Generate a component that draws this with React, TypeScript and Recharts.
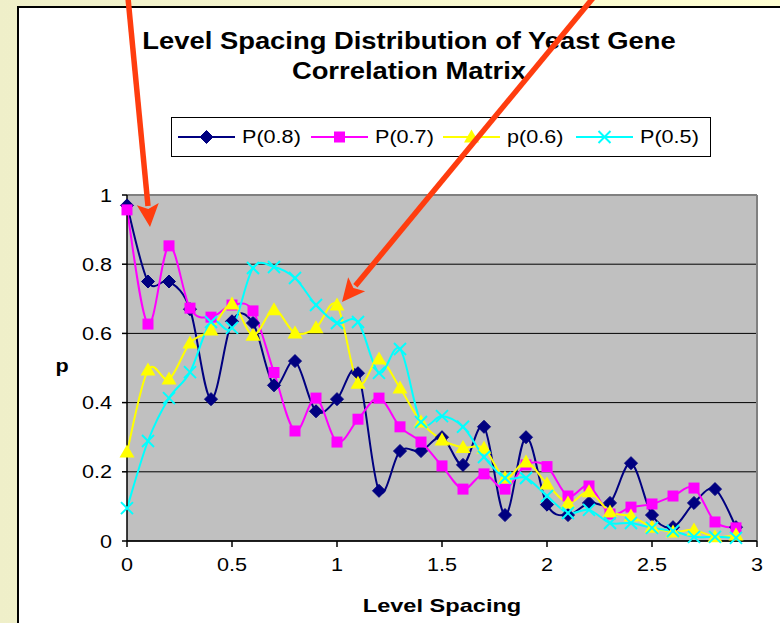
// App.tsx

import {
  LineChart,
  Line,
  XAxis,
  YAxis,
  CartesianGrid,
  ReferenceLine,
} from "recharts";

const spacing = [
  0, 0.1, 0.2, 0.3, 0.4, 0.5, 0.6, 0.7, 0.8, 0.9, 1.0, 1.1, 1.2, 1.3, 1.4,
  1.5, 1.6, 1.7, 1.8, 1.9, 2.0, 2.1, 2.2, 2.3, 2.4, 2.5, 2.6, 2.7, 2.8, 2.9,
];

const p08 = [
  0.97, 0.75, 0.75, 0.67, 0.41, 0.635, 0.63, 0.45, 0.52, 0.375, 0.41, 0.485,
  0.145, 0.26, 0.26, 0.3, 0.22, 0.33, 0.075, 0.3, 0.105, 0.075, 0.11, 0.11,
  0.225, 0.075, 0.04, 0.11, 0.15, 0.04,
];
const p07 = [
  0.957, 0.627, 0.853, 0.673, 0.647, 0.682, 0.665, 0.487, 0.318, 0.413, 0.286,
  0.352, 0.413, 0.33, 0.286, 0.217, 0.15, 0.194, 0.15, 0.22, 0.215, 0.13,
  0.159, 0.078, 0.098, 0.107, 0.13, 0.153, 0.055, 0.038,
];
const p06 = [
  0.257, 0.494, 0.468, 0.572, 0.61, 0.685, 0.595, 0.668, 0.601, 0.616, 0.682,
  0.456, 0.526, 0.442, 0.344, 0.292, 0.27, 0.268, 0.182, 0.228, 0.165, 0.11,
  0.142, 0.084, 0.072, 0.04, 0.026, 0.032, 0.012, 0.017,
];
const p05 = [
  0.095, 0.289, 0.413, 0.488, 0.633, 0.616, 0.789, 0.792, 0.76, 0.682, 0.63,
  0.633, 0.486, 0.555, 0.344, 0.361, 0.33, 0.243, 0.182, 0.182, 0.13, 0.081,
  0.09, 0.052, 0.052, 0.038, 0.029, 0.012, 0.012, 0.009,
];

const xTicks = [0, 0.5, 1, 1.5, 2, 2.5, 3];
const yTicks = [0, 0.2, 0.4, 0.6, 0.8, 1];

const data = spacing.map((x, i) => ({
  x,
  p08: p08[i],
  p07: p07[i],
  p06: p06[i],
  p05: p05[i],
}));

const FONT = '"Liberation Sans", Arial, sans-serif';
const SX = 1.2; // text in the picture is a bit wide

// Excel-style smoothed line (catmull-rom through the points)
const excelSmooth = (context: any) => {
  let pts: number[][] = [];
  return {
    areaStart() {},
    areaEnd() {},
    lineStart() {
      pts = [];
    },
    point(x: number, y: number) {
      pts.push([+x, +y]);
    },
    lineEnd() {
      if (!pts.length) return;
      context.moveTo(pts[0][0], pts[0][1]);
      for (let i = 0; i < pts.length - 1; i++) {
        const p0 = pts[Math.max(i - 1, 0)];
        const p1 = pts[i];
        const p2 = pts[i + 1];
        const p3 = pts[Math.min(i + 2, pts.length - 1)];
        context.bezierCurveTo(
          p1[0] + (p2[0] - p0[0]) / 6,
          p1[1] + (p2[1] - p0[1]) / 6,
          p2[0] - (p3[0] - p1[0]) / 6,
          p2[1] - (p3[1] - p1[1]) / 6,
          p2[0],
          p2[1]
        );
      }
    },
  };
};

const Diamond = ({ cx, cy }: any) => (
  <polygon
    points={`${cx},${cy - 6.5} ${cx + 6.5},${cy} ${cx},${cy + 6.5} ${cx - 6.5},${cy}`}
    fill="#000080"
    stroke="#000080"
  />
);
const Square = ({ cx, cy }: any) => (
  <rect x={cx - 5.5} y={cy - 5.5} width={11} height={11} fill="#FF00FF" />
);
const Triangle = ({ cx, cy }: any) => (
  <polygon
    points={`${cx},${cy - 7.5} ${cx + 7.5},${cy + 5.5} ${cx - 7.5},${cy + 5.5}`}
    fill="#FFFF00"
  />
);
const Cross = ({ cx, cy }: any) => (
  <g stroke="#00FFFF" strokeWidth={2}>
    <line x1={cx - 6} y1={cy - 6} x2={cx + 6} y2={cy + 6} />
    <line x1={cx - 6} y1={cy + 6} x2={cx + 6} y2={cy - 6} />
  </g>
);

const series = [
  { key: "p08", name: "P(0.8)", color: "#000080", Marker: Diamond },
  { key: "p07", name: "P(0.7)", color: "#FF00FF", Marker: Square },
  { key: "p06", name: "p(0.6)", color: "#FFFF00", Marker: Triangle },
  { key: "p05", name: "P(0.5)", color: "#00FFFF", Marker: Cross },
];

const XTick = ({ x, y, payload }: any) => (
  <text
    transform={`translate(${x},${y + 21}) scale(${SX},1)`}
    textAnchor="middle"
    fontFamily={FONT}
    fontSize={18}
    fill="#000"
  >
    {payload.value}
  </text>
);

const YTick = ({ x, y, payload }: any) => (
  <text
    transform={`translate(${x},${y + 6.5}) scale(${SX},1)`}
    textAnchor="end"
    fontFamily={FONT}
    fontSize={18}
    fill="#000"
  >
    {payload.value}
  </text>
);

const Stretch = ({ children, style, sx = SX }: any) => (
  <div
    style={{
      position: "absolute",
      whiteSpace: "nowrap",
      fontFamily: FONT,
      transform: `translateX(-50%) scaleX(${sx})`,
      ...style,
    }}
  >
    {children}
  </div>
);

// red annotation arrows
const arrows = [
  { x1: 128, y1: -2, x2: 150, y2: 227 },
  { x1: 593, y1: -2, x2: 342, y2: 302 },
];

const Arrow = ({ x1, y1, x2, y2 }: any) => {
  const len = Math.hypot(x2 - x1, y2 - y1);
  const ux = (x2 - x1) / len;
  const uy = (y2 - y1) / len;
  const hl = 23;
  const hw = 11;
  const bx = x2 - ux * hl;
  const by = y2 - uy * hl;
  return (
    <g>
      <line x1={x1} y1={y1} x2={bx + ux * 2} y2={by + uy * 2} stroke="#FF3D0F" strokeWidth={5.5} />
      <polygon
        points={`${x2},${y2} ${bx - uy * hw},${by + ux * hw} ${bx + ux * 5},${by + uy * 5} ${bx + uy * hw},${by - ux * hw}`}
        fill="#FF3D0F"
      />
    </g>
  );
};

export default function App() {
  return (
    <div
      style={{
        position: "absolute",
        left: 0,
        top: 0,
        width: 780,
        height: 623,
        overflow: "hidden",
        background: "linear-gradient(to right, #EFEFC9, #FFFFD3)",
      }}
    >
      <div
        style={{
          position: "absolute",
          left: 17,
          top: 6,
          width: 800,
          height: 700,
          background: "#fff",
          borderLeft: "2px solid #000",
          borderTop: "2px solid #000",
        }}
      />
      <Stretch sx={1.19} style={{ left: 409, top: 28, fontSize: 23, fontWeight: "bold" }}>
        Level Spacing Distribution of Yeast Gene
      </Stretch>
      <Stretch sx={1.19} style={{ left: 409, top: 58, fontSize: 23, fontWeight: "bold" }}>
        Correlation Matrix
      </Stretch>

      <div
        style={{
          position: "absolute",
          left: 171,
          top: 117,
          width: 538,
          height: 38,
          border: "1px solid #000",
          background: "#fff",
        }}
      >
        {series.map((s, i) => (
          <div
            key={s.key}
            style={{
              position: "absolute",
              left: 6 + i * 132.5,
              top: 9,
              height: 20,
              display: "flex",
              alignItems: "center",
            }}
          >
            <svg width={57} height={20}>
              <line x1={0} y1={10} x2={57} y2={10} stroke={s.color} strokeWidth={2} />
              <s.Marker cx={28.5} cy={10} />
            </svg>
            <span
              style={{
                marginLeft: 7,
                fontFamily: FONT,
                fontSize: 18,
                display: "inline-block",
                transform: `scaleX(${SX})`,
                transformOrigin: "left center",
              }}
            >
              {s.name}
            </span>
          </div>
        ))}
      </div>

      <Stretch style={{ left: 62, top: 356, fontSize: 18, fontWeight: "bold" }}>p</Stretch>
      <Stretch sx={1.24} style={{ left: 442, top: 595, fontSize: 19, fontWeight: "bold" }}>
        Level Spacing
      </Stretch>

      <LineChart
        width={780}
        height={623}
        data={data}
        margin={{ top: 195, right: 23, bottom: 42, left: 67 }}
        style={{ position: "absolute", left: 0, top: 0 }}
      >
        <CartesianGrid vertical={false} stroke="#000" fill="#C0C0C0" />
        <ReferenceLine y={1} stroke="#808080" strokeWidth={2} />
        <ReferenceLine x={3} stroke="#808080" strokeWidth={2} />
        <XAxis
          type="number"
          dataKey="x"
          domain={[0, 3]}
          ticks={xTicks}
          interval={0}
          height={40}
          tickSize={6}
          tickMargin={3}
          stroke="#000"
          strokeWidth={1.5}
          tick={<XTick />}
        />
        <YAxis
          type="number"
          domain={[0, 1]}
          ticks={yTicks}
          interval={0}
          width={60}
          tickSize={5}
          tickMargin={10}
          stroke="#000"
          strokeWidth={1.5}
          tick={<YTick />}
        />
        {series.map((s) => (
          <Line
            key={s.key}
            dataKey={s.key}
            name={s.name}
            type={excelSmooth as any}
            stroke={s.color}
            strokeWidth={2}
            isAnimationActive={false}
            dot={(p: any) => <s.Marker key={`${s.key}-${p.index}`} cx={p.cx} cy={p.cy} />}
            activeDot={false}
          />
        ))}
      </LineChart>

      <svg
        width={780}
        height={623}
        style={{ position: "absolute", left: 0, top: 0, pointerEvents: "none" }}
      >
        {arrows.map((a, i) => (
          <Arrow key={i} {...a} />
        ))}
      </svg>
    </div>
  );
}
